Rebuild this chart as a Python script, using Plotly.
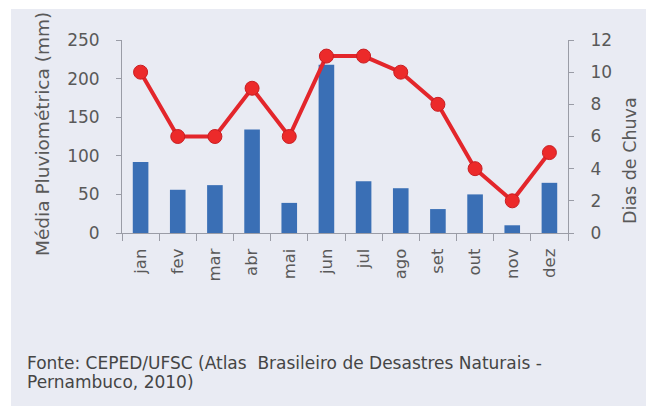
import plotly.graph_objects as go

months = ["jan", "fev", "mar", "abr", "mai", "jun", "jul", "ago", "set", "out", "nov", "dez"]
rain_mm = [92, 56, 62, 134, 39, 218, 67, 58, 31, 50, 10, 65]
rain_days = [10, 6, 6, 9, 6, 11, 11, 10, 8, 4, 2, 5]
left_ticks = [0, 50, 100, 150, 200, 250]
right_ticks = [0, 2, 4, 6, 8, 10, 12]
source_lines = ["Fonte: CEPED/UFSC (Atlas  Brasileiro de Desastres Naturais -",
                "Pernambuco, 2010)"]

FONT = "'DejaVu Sans', sans-serif"
TXT = "#595959"
AX = "#9a9ca6"

# plot area in pixels: x 122..568, y 40..233
PW, PH = 446, 193


def px_x(x):
    return (x - 122) / PW


def px_y(y):
    return (233 - y) / PH


fig = go.Figure()
fig.add_trace(go.Bar(x=months, y=rain_mm, marker=dict(color="#3a6fb5", line=dict(width=0)),
                     yaxis="y", showlegend=False))
fig.add_trace(go.Scatter(x=months, y=rain_days, yaxis="y2", mode="lines+markers",
                         line=dict(color="#e3262b", width=4),
                         marker=dict(size=14, color="#ec2a2a", line=dict(color="#c81e22", width=1)),
                         showlegend=False))

fig.update_layout(
    width=646, height=406,
    margin=dict(l=122, r=78, t=40, b=173, autoexpand=False),
    paper_bgcolor="white",
    plot_bgcolor="rgba(0,0,0,0)",
    bargap=0.58,
    font=dict(family=FONT, color=TXT),
    xaxis=dict(
        range=[-0.5, len(months) - 0.5],
        tickangle=-90, tickfont=dict(size=16.5, color=TXT),
        showline=True, linecolor=AX, linewidth=1,
        ticks="outside", ticklen=7, tickcolor=AX, tickson="boundaries",
        ticklabelstandoff=8,
        showgrid=False, zeroline=False, automargin=False,
    ),
    yaxis=dict(
        range=[0, 250], tickvals=left_ticks, tickfont=dict(size=17, color=TXT),
        showline=True, linecolor=AX, linewidth=1,
        ticks="outside", ticklen=5, tickcolor=AX, ticklabelstandoff=13,
        showgrid=False, zeroline=False, automargin=False,
    ),
    yaxis2=dict(
        range=[0, 12], tickvals=right_ticks, overlaying="y", side="right",
        tickfont=dict(size=17, color=TXT),
        showline=True, linecolor=AX, linewidth=1,
        ticks="outside", ticklen=5, tickcolor=AX, ticklabelstandoff=13,
        showgrid=False, zeroline=False, automargin=False,
    ),
    shapes=[dict(type="rect", xref="paper", yref="paper",
                 x0=px_x(11), x1=px_x(660), y0=px_y(420), y1=px_y(9),
                 fillcolor="#e9ebf3", line=dict(width=0), layer="below")],
    annotations=[
        dict(text="Média Pluviométrica (mm)", textangle=-90, xref="paper", yref="paper",
             x=px_x(42), y=px_y(134), xanchor="center", yanchor="middle", showarrow=False,
             font=dict(size=18.5, color=TXT, family=FONT)),
        dict(text="Dias de Chuva", textangle=-90, xref="paper", yref="paper",
             x=px_x(630), y=px_y(161), xanchor="center", yanchor="middle", showarrow=False,
             font=dict(size=17.5, color=TXT, family=FONT)),
        dict(text=source_lines[0], xref="paper", yref="paper", x=px_x(25), y=px_y(363),
             xanchor="left", yanchor="middle", showarrow=False,
             font=dict(size=17, color="#454545", family=FONT)),
        dict(text=source_lines[1], xref="paper", yref="paper", x=px_x(25), y=px_y(382),
             xanchor="left", yanchor="middle", showarrow=False,
             font=dict(size=17, color="#454545", family=FONT)),
    ],
)

fig.write_html("out.html")
